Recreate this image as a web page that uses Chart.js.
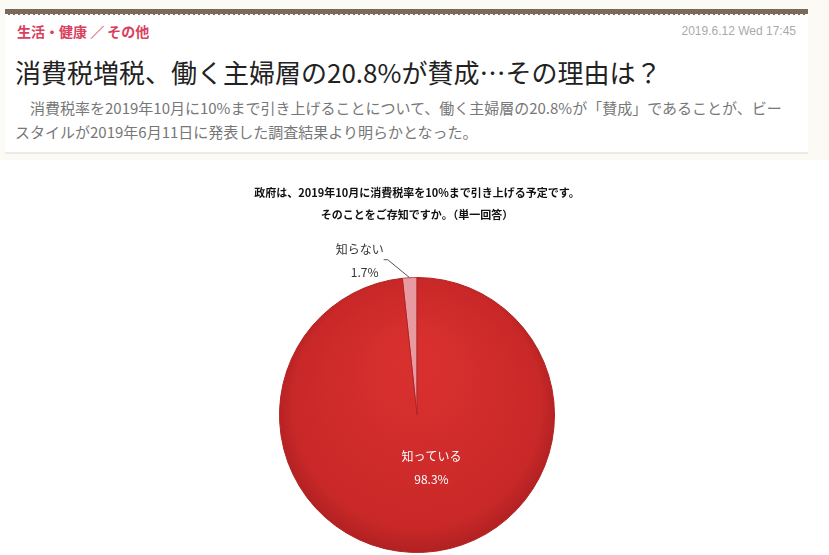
<!DOCTYPE html>
<html><head><meta charset="utf-8">
<script src="https://cdn.jsdelivr.net/npm/chart.js@4"></script>
<style>
body{margin:0;background:#fbfaf5;font-family:"Noto Sans CJK JP",sans-serif;width:829px;height:555px;overflow:hidden;position:relative}
.bar{position:absolute;left:5px;top:9px;width:803px;height:5px;background:#7b6a5c;border-bottom:1px dashed #fff}
.card{position:absolute;left:5px;top:15px;width:803px;height:137px;background:#fff;border-bottom:2px solid #eeeae4}
.cat{position:absolute;left:12px;top:6px;color:#d9405e;font-size:14px;font-weight:bold}
.date{position:absolute;right:12px;top:9px;color:#aaa;font-size:12px;font-family:"Liberation Sans",sans-serif}
.ttl{position:absolute;left:10px;top:38px;font-size:26px;color:#222}
.lead{position:absolute;left:10px;top:81px;width:775px;font-size:15px;line-height:24px;color:#777;text-indent:1em}
.chartbox{position:absolute;left:0;top:160px;width:829px;height:395px;background:#fff}
</style></head><body>
<div class="bar"></div>
<div class="card">
 <div class="cat">生活・健康 ／ その他</div>
 <div class="date">2019.6.12 Wed 17:45</div>
 <div class="ttl">消費税増税、働く主婦層の20.8%が賛成…その理由は？</div>
 <div class="lead">消費税率を2019年10月に10%まで引き上げることについて、働く主婦層の20.8%が「賛成」であることが、ビースタイルが2019年6月11日に発表した調査結果より明らかとなった。</div>
</div>
<div class="chartbox"><canvas id="c" width="829" height="395"></canvas></div>
<script>
const categories = ['知らない', '知っている'];
const values = [1.7, 98.3];
const titleLines = ['政府は、2019年10月に消費税率を10%まで引き上げる予定です。', 'そのことをご存知ですか。（単一回答）'];

const labelPlugin = {
  id: 'labels',
  afterDraw(chart) {
    const ctx = chart.ctx;
    ctx.save();
    ctx.textAlign = 'center';
    ctx.font = 'bold 11px "Noto Sans CJK JP"';
    ctx.fillStyle = '#111';
    ctx.fillText(titleLines[0], 417, 37);
    ctx.fillText(titleLines[1], 417, 59);
    const arcs = chart.getDatasetMeta(0).data;
    const a0 = arcs[0];
    const mid0 = (a0.startAngle + a0.endAngle) / 2;
    const ex = a0.x + Math.cos(mid0) * a0.outerRadius, ey = a0.y + Math.sin(mid0) * a0.outerRadius;
    ctx.strokeStyle = '#555'; ctx.lineWidth = 1;
    ctx.beginPath(); ctx.moveTo(ex, ey); ctx.lineTo(ex - 22, ey - 18); ctx.lineTo(ex - 26, ey - 18); ctx.stroke();
    ctx.font = '12px "Noto Sans CJK JP"'; ctx.fillStyle = '#333';
    ctx.fillText(categories[0], ex - 50, ey - 24);
    ctx.fillText(values[0].toFixed(1) + '%', ex - 45, ey - 1);
    const a1 = arcs[1];
    const mid1 = (a1.startAngle + a1.endAngle) / 2;
    const lx = a1.x + Math.cos(mid1) * a1.outerRadius * 0.33;
    const ly = a1.y + Math.sin(mid1) * a1.outerRadius * 0.33;
    ctx.fillStyle = '#fff';
    ctx.fillText(categories[1], lx + 12, ly + 1);
    ctx.fillText(values[1].toFixed(1) + '%', lx + 12, ly + 24);
    ctx.restore();
  }
};

const ctx = document.getElementById('c').getContext('2d');
const grad = ctx.createRadialGradient(417, 200, 20, 417, 255, 150);
grad.addColorStop(0, '#d8302f');
grad.addColorStop(0.8, '#c92828');
grad.addColorStop(1, '#a51d1f');
new Chart(ctx, {
  type: 'pie',
  data: {
    labels: categories,
    datasets: [{
      data: values,
      backgroundColor: ['#e79aa0', grad],
      borderColor: ['#c05060', '#b22222'],
      borderWidth: 1
    }]
  },
  options: {
    responsive: false,
    animation: false,
    rotation: -values[0] / 100 * 360,
    layout: { padding: { top: 117, bottom: 2, left: 5 } },
    plugins: { legend: { display: false }, tooltip: { enabled: false } }
  },
  plugins: [labelPlugin]
});
</script>
</body></html>
